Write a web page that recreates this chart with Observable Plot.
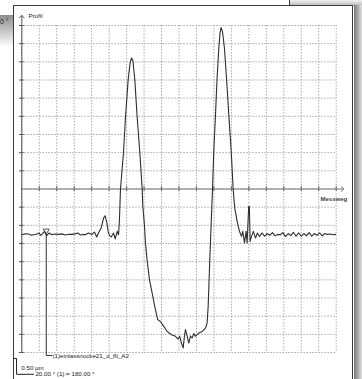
<!DOCTYPE html>
<html><head><meta charset="utf-8">
<script src="https://cdn.jsdelivr.net/npm/d3@7"></script>
<script src="https://cdn.jsdelivr.net/npm/@observablehq/plot@0.6"></script>
<style>
body{margin:0;background:#fff;overflow:hidden}
#wrap{position:relative;width:362px;height:379px;overflow:hidden;font-family:"Liberation Sans",Arial,sans-serif}
.abs{position:absolute}
</style></head>
<body><div id="wrap">
<div class="abs" style="left:289px;top:0;width:73px;height:6px;background:linear-gradient(#f2f2f2,#b4b4b4)"></div>
<div class="abs" style="left:289px;top:0;width:1px;height:6px;background:#333"></div>
<div class="abs" style="left:0;top:15px;width:14px;height:32px;background:linear-gradient(#8e8e8e,#fff)"></div>
<div class="abs" style="left:0;top:18px;font-size:7px;color:#222">0 °</div>
<div class="abs" style="left:354px;top:5px;width:8px;height:380px;background:linear-gradient(to right,#777,#e2e2e2)"></div>
<div class="abs" style="left:13px;top:5px;width:338px;height:380px;border:1px solid #3a3a3a;background:#fff"></div>
<div id="chart" class="abs" style="left:0;top:0"></div>
</div>
<script>
// grid positions (data units)
const gridX = [0,1,2,3,4,5,6,7,8,9,10,11,12,13,14,15,16,17,18];
const gridY = [-9,-8,-7,-6,-5,-4,-3,-2,-1,0,1,2,3,4,5,6,7,8,9];
const tickX = [1,2,3,4,5,6,7,8,9,10,11,12,13,14,15,16,17,18];
const tickY = [-9,-8,-7,-6,-5,-4,-3,-2,-1,1,2,3,4,5,6,7,8,9];

// profile (Messweg, Profil)
const profileX = [0,0.2,0.38,0.55,0.77,0.9,0.99,1.08,1.15,1.3,1.43,1.57,1.72,1.9,2.1,2.3,2.48,2.7,2.86,3.05,3.21,3.34,3.5,3.63,3.82,4.01,4.16,4.29,4.39,4.54,4.68,4.77,4.87,4.96,5.04,5.12,5.2,5.25,5.35,5.46,5.54,5.59,
 5.65,5.82,5.94,6.09,6.2,6.28,6.36,6.47,6.6,6.76,6.89,
 6.93,7.02,7.08,7.18,7.31,7.46,7.61,7.78,7.94,8.13,8.32,8.57,8.8,8.95,9.04,9.14,9.24,9.31,9.37,9.47,9.56,9.66,9.75,9.85,9.94,10.13,10.33,10.52,10.61,10.67,10.76,10.84,10.92,
 10.99,11.09,11.18,11.28,11.35,11.41,11.46,11.5,11.6,11.72,11.85,11.99,12.1,
 12.19,12.33,12.46,12.58,12.65,12.75,12.84,12.9,12.99,13.03,13.07,13.15,13.26,13.38,13.49,13.61,
 13.75,13.9,14.05,14.2,14.35,14.5,14.65,14.8,14.95,15.1,15.25,15.4,15.55,15.7,15.85,16.0,16.15,16.3,16.45,16.6,16.75,16.9,17.05,17.2,17.35,17.5,17.65,17.8,17.96];
const profileY = [-2.52,-2.46,-2.48,-2.54,-2.5,-2.46,-2.42,-2.55,-2.5,-2.33,-2.57,-2.42,-2.52,-2.48,-2.5,-2.47,-2.53,-2.49,-2.5,-2.47,-2.42,-2.53,-2.5,-2.52,-2.42,-2.5,-2.37,-2.64,-2.42,-2.15,-1.6,-1.47,-1.87,-2.42,-2.58,-2.64,-2.5,-2.42,-2.75,-2.33,-2.52,-1.69,
 0,1.98,4.0,6.02,6.93,7.21,7.07,6.02,4.0,1.98,0,
 -0.96,-1.96,-2.97,-3.98,-4.99,-5.72,-6.46,-7.19,-7.29,-7.56,-7.84,-8.02,-8.11,-8.26,-8.11,-8.48,-8.75,-8.11,-7.74,-8.11,-8.48,-8.09,-8.2,-7.96,-8.11,-7.93,-7.84,-7.65,-7.37,-6.46,-3.98,-1.96,0,
 2.07,4.09,6.11,7.76,8.6,8.89,8.75,8.6,7.76,6.11,4.09,2.07,0,
 -1.05,-1.78,-2.33,-2.61,-2.33,-2.97,-2.33,-2.97,-0.96,-0.96,-2.88,-2.61,-2.33,-2.7,-2.42,-2.61,
 -2.42,-2.6,-2.45,-2.55,-2.4,-2.58,-2.5,-2.52,-2.4,-2.62,-2.45,-2.57,-2.38,-2.6,-2.42,-2.6,-2.45,-2.58,-2.4,-2.6,-2.45,-2.55,-2.42,-2.58,-2.45,-2.5,-2.48,-2.52,-2.5];

const labels = {
  yTitle: "Profil",
  xTitle: "Messweg",
  series: "(1)einlassnocke21_d_flt_A2",
  scale: "0.50 µm",
  angle: "20.00 ° (1):= 180.00 °"
};

const profile = profileX.map((x, i) => ({x, y: profileY[i]}));
const font = "Liberation Sans, Arial, sans-serif";
const ink = "#2e2e2e";

const chart = Plot.plot({
  width: 362, height: 379,
  marginLeft: 21.3, marginRight: 26.3, marginTop: 25, marginBottom: 27,
  x: {domain: [0, 18], axis: null},
  y: {domain: [-9, 9], axis: null},
  style: {background: "transparent", overflow: "visible", fontFamily: font},
  marks: [
    Plot.ruleX(gridX, {stroke: "#a8a8a8", strokeDasharray: "1.5,1.5", strokeWidth: 1}),
    Plot.ruleY(gridY, {stroke: "#a8a8a8", strokeDasharray: "1.5,1.5", strokeWidth: 1}),
    Plot.ruleX(tickX, {y1: -0.14, y2: 0.14, stroke: "#666"}),
    Plot.ruleY(tickY, {x1: -0.14, x2: 0.14, stroke: "#555"}),
    Plot.arrow([{x1: 0, y1: 0, x2: 18.43, y2: 0}], {x1: "x1", y1: "y1", x2: "x2", y2: "y2", stroke: "#777", strokeWidth: 1, headAngle: 90, headLength: 5}),
    Plot.arrow([{x1: 0, y1: -9, x2: 0, y2: 9.55}], {x1: "x1", y1: "y1", x2: "x2", y2: "y2", stroke: "#555", strokeWidth: 1, headAngle: 90, headLength: 5}),
    Plot.line(profile, {x: "x", y: "y", stroke: ink, strokeWidth: 1.1}),
    Plot.dot([{x: 1.40, y: -2.3}], {x: "x", y: "y", symbol: "triangle", rotate: 180, r: 2.2, stroke: ink, fill: "none", strokeWidth: 0.8}),
    Plot.line([{x: 1.40, y: -2.45}, {x: 1.40, y: -9.17}, {x: 1.72, y: -9.17}], {x: "x", y: "y", stroke: ink, strokeWidth: 1}),
    Plot.line([{x: -0.42, y: -9.33}, {x: -0.30, y: -9.33}, {x: -0.30, y: -10.2}, {x: 0.67, y: -10.2}], {x: "x", y: "y", stroke: "#222", strokeWidth: 1}),
    Plot.text([labels.yTitle], {x: 0.38, y: 9.54, text: d => d, textAnchor: "start", fontSize: 6.2, fill: "#222"}),
    Plot.text([labels.xTitle], {x: 17.1, y: -0.56, text: d => d, textAnchor: "start", fontSize: 6, fontWeight: "bold", fill: "#444"}),
    Plot.text([labels.series], {x: 1.76, y: -9.17, text: d => d, textAnchor: "start", fontSize: 6.2, fill: "#222"}),
    Plot.text([labels.scale], {x: -0.03, y: -9.85, text: d => d, textAnchor: "start", fontSize: 6.2, fill: "#222"}),
    Plot.text([labels.angle], {x: 0.78, y: -10.17, text: d => d, textAnchor: "start", fontSize: 6.2, fill: "#222"})
  ]
});
document.getElementById("chart").appendChild(chart);
</script>
</body></html>
